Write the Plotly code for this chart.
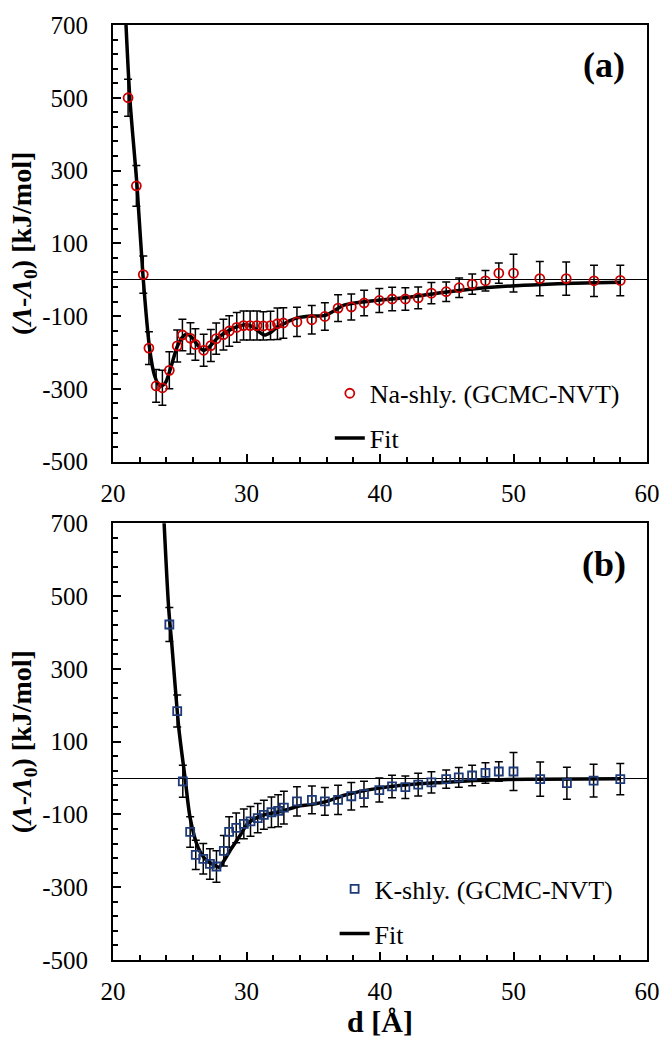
import plotly.graph_objects as go

# ---------------- data: panel (a) Na-shly. ----------------
na_d = [21.13, 21.75, 22.27, 22.69, 23.23, 23.7, 24.22, 24.81, 25.2, 25.8, 26.17, 26.79,
        27.33, 27.73, 28.27, 28.71, 29.27, 29.78, 30.27, 30.79, 31.26, 31.8, 32.32, 32.76,
        33.78, 34.89, 35.87, 36.86, 37.85, 38.81, 39.95, 40.91, 41.9, 42.86, 43.85, 44.96,
        45.93, 46.91, 47.9, 48.9, 50.0, 51.97, 53.95, 56.03, 58.0]
na_val = [500, 258, 14, -188, -292, -297, -249, -182, -152, -161, -178, -194,
          -181, -162, -151, -141, -131, -126, -126, -126, -127, -126, -121, -119,
          -116, -110, -101, -78, -75, -64, -57, -53, -53, -50, -37, -33,
          -22, -12, -3, 18, 18, 3, 3, -3, -2]
na_err = [51, 56, 51, 45, 45, 48, 51, 44, 43, 43, 43, 44,
          44, 43, 42, 42, 41, 40, 40, 40, 39, 39, 43, 42,
          40, 39, 38, 37, 36, 35, 33, 32, 31, 30, 29, 27,
          27, 28, 28, 28, 52, 47, 46, 43, 42]

fit_a_d = [20.9, 21.26, 21.8, 22.24, 22.74, 23.1, 23.5, 23.9, 24.3, 24.8, 25.2, 25.55,
           25.9, 26.3, 26.75, 27.2, 27.75, 28.3, 28.8, 29.4, 29.9, 30.4, 30.9, 31.35,
           31.8, 32.3, 32.8, 33.3, 33.8, 34.8, 35.9, 36.8, 37.3, 38.5, 39.7, 42.2,
           44.7, 47.1, 49.1, 52.1, 54.5, 58.0]
fit_a_val = [760, 500, 258, 14, -188, -262, -292, -285, -245, -185, -158, -150,
             -158, -178, -194, -185, -163, -148, -137, -128, -124, -128, -142, -152,
             -145, -130, -121, -112, -105, -100, -98, -80, -70, -62, -57, -48,
             -35, -25, -19, -13, -10, -7]

# ---------------- data: panel (b) K-shly. ----------------
k_d = [24.22, 24.81, 25.23, 25.78, 26.2, 26.76, 27.26, 27.75, 28.3, 28.7, 29.23,
       29.8, 30.3, 30.84, 31.3, 31.87, 32.37, 32.8, 33.78, 34.9, 35.87, 36.86, 37.85,
       38.8, 39.95, 40.9, 41.9, 42.86, 43.85, 44.96, 45.9, 46.9, 47.9, 48.9, 50.0,
       52.0, 54.0, 56.0, 58.0]
k_val = [422, 184, -9, -148, -211, -222, -236, -243, -200, -148, -137,
         -126, -119, -110, -101, -94, -90, -81, -64, -60, -64, -60, -50,
         -44, -33, -23, -25, -18, -12, -3, 2, 7, 14, 18, 18,
         -3, -14, -7, -3]
k_err = [47, 44, 44, 42, 40, 42, 42, 43, 42, 42, 41,
         41, 41, 40, 40, 42, 44, 45, 40, 38, 38, 40, 38,
         35, 33, 31, 31, 31, 29, 25, 27, 28, 28, 27, 52,
         47, 44, 45, 43]

fit_b_d = [23.75, 24.17, 24.4, 24.93, 25.4, 25.78, 26.39, 27.0, 27.63, 27.93, 28.3, 28.74,
           29.48, 30.1, 30.7, 31.33, 32.56, 33.8, 34.8, 36.0, 37.26, 39.7, 42.2, 44.7,
           47.1, 49.6, 52.1, 58.0]
fit_b_val = [760, 467, 370, 137, 0, -110, -192, -226, -240, -245, -228, -201,
             -160, -124, -110, -101, -92, -78, -73, -64, -48, -29, -18, -12,
             -7, -4, -3, -2]

# ---------------- labels ----------------
x_tick_vals = [20, 30, 40, 50, 60]
x_tick_text = ["20", "30", "40", "50", "60"]
y_tick_vals = [-500, -300, -100, 100, 300, 500, 700]
y_tick_text = ["-500", "-300", "-100", "100", "300", "500", "700"]
na_name = "Na-shly. (GCMC-NVT)"
k_name = "K-shly. (GCMC-NVT)"
fit_name = "Fit"
panel_labels = ["(a)", "(b)"]
y_title = "<b>(<i>Λ</i>-<i>Λ</i><sub>0</sub>) [kJ/mol]</b>"
x_title = "<b>d [Å]</b>"

FONT = "Liberation Serif, Times New Roman, serif"
RED = "#CC0000"
BLUE = "#1F3A78"

fig = go.Figure()

err_style = dict(type="data", visible=True, color="black", thickness=1.5, width=4)

fig.add_trace(go.Scatter(
    x=fit_a_d, y=fit_a_val, mode="lines", name=fit_name,
    line=dict(color="black", width=3.5, shape="spline", smoothing=0.8),
    xaxis="x", yaxis="y", legend="legend", legendgroup="a2", legendrank=2))
fig.add_trace(go.Scatter(
    x=na_d, y=na_val, mode="markers", name=na_name,
    error_y=dict(array=na_err, **err_style),
    marker=dict(symbol="circle-open", size=9, color=RED, line=dict(width=1.8, color=RED)),
    xaxis="x", yaxis="y", legend="legend", legendgroup="a1", legendrank=1))

fig.add_trace(go.Scatter(
    x=fit_b_d, y=fit_b_val, mode="lines", name=fit_name,
    line=dict(color="black", width=3.5, shape="spline", smoothing=0.8),
    xaxis="x2", yaxis="y2", legend="legend2", legendgroup="b2", legendrank=2))
fig.add_trace(go.Scatter(
    x=k_d, y=k_val, mode="markers", name=k_name,
    error_y=dict(array=k_err, **err_style),
    marker=dict(symbol="square-open", size=8, color=BLUE, line=dict(width=1.8, color=BLUE)),
    xaxis="x2", yaxis="y2", legend="legend2", legendgroup="b1", legendrank=1))

tickfont = dict(family=FONT, size=25, color="black")

def xax(anchor, show_title):
    d = dict(
        anchor=anchor, domain=[0, 1], range=[20, 60],
        tickmode="array", tickvals=x_tick_vals, ticktext=x_tick_text,
        ticks="inside", ticklen=8, tickwidth=1.5, tickcolor="black",
        minor=dict(tick0=20, dtick=2, ticks="inside", ticklen=5, tickwidth=1.5, tickcolor="black"),
        showline=True, linecolor="black", linewidth=2, mirror=True,
        showgrid=False, zeroline=False, tickfont=tickfont, ticklabelstandoff=8,
    )
    if show_title:
        d["title"] = dict(text=x_title, font=dict(family=FONT, size=30, color="black"), standoff=2)
    return d

def yax(anchor, domain):
    return dict(
        anchor=anchor, domain=domain, range=[-500, 700],
        tickmode="array", tickvals=y_tick_vals, ticktext=y_tick_text,
        ticks="inside", ticklen=8, tickwidth=1.5, tickcolor="black",
        minor=dict(tick0=-500, dtick=40, ticks="inside", ticklen=5, tickwidth=1.5, tickcolor="black"),
        showline=True, linecolor="black", linewidth=2, mirror=True,
        showgrid=False, zeroline=True, zerolinecolor="black", zerolinewidth=1.3,
        tickfont=tickfont, ticklabelstandoff=18,
        title=dict(text=y_title, font=dict(family=FONT, size=28, color="black"), standoff=2),
    )

legend_common = dict(
    font=dict(family=FONT, size=26, color="black"),
    bgcolor="rgba(0,0,0,0)", borderwidth=0, tracegroupgap=8,
    xanchor="left", yanchor="middle", itemsizing="trace",
)

fig.update_layout(
    width=672, height=1048,
    margin=dict(l=113, r=17, t=22, b=88),
    paper_bgcolor="white", plot_bgcolor="white",
    font=dict(family=FONT, color="black"),
    xaxis=xax("y", False),
    yaxis=yax("x", [0.533, 1.0]),
    xaxis2=xax("y2", True),
    yaxis2=yax("x2", [0.0, 0.467]),
    legend=dict(x=0.406, y=0.582, **legend_common),
    legend2=dict(x=0.415, y=0.052, **legend_common),
    showlegend=True,
    annotations=[
        dict(text="<b>" + panel_labels[0] + "</b>", x=0.919, y=0.957, xref="paper", yref="paper",
             xanchor="center", yanchor="middle",
             showarrow=False, font=dict(family=FONT, size=36, color="black")),
        dict(text="<b>" + panel_labels[1] + "</b>", x=0.919, y=0.424, xref="paper", yref="paper",
             xanchor="center", yanchor="middle",
             showarrow=False, font=dict(family=FONT, size=36, color="black")),
    ],
)

fig.write_html("out.html")
